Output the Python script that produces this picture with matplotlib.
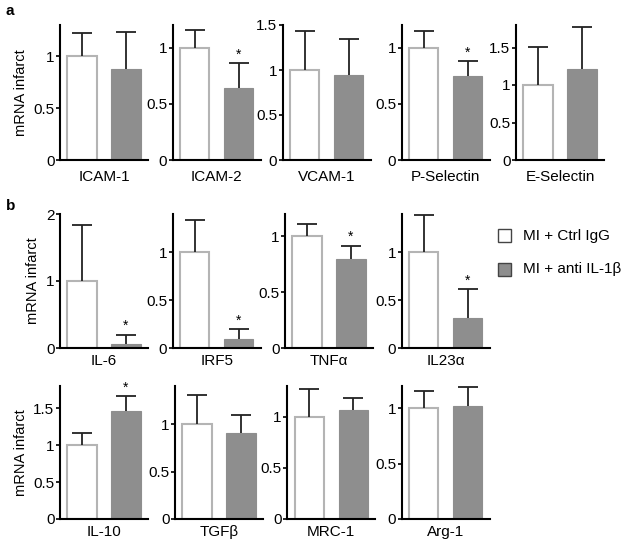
import numpy as np
import matplotlib.pyplot as plt
from matplotlib.ticker import MultipleLocator, FormatStrFormatter
from matplotlib.patches import Rectangle

plt.rcParams['font.family'] = ['Liberation Sans', 'DejaVu Sans']
plt.rcParams['font.size'] = 11

# Data (relative mRNA expression in infarct, mean and upper error)
genes_a = ['ICAM-1', 'ICAM-2', 'VCAM-1', 'P-Selectin', 'E-Selectin']
ctrl_a = [1.0, 1.0, 1.0, 1.0, 1.0]
ctrl_err_a = [0.22, 0.16, 0.43, 0.15, 0.51]
anti_a = [0.88, 0.64, 0.94, 0.745, 1.22]
anti_err_a = [0.35, 0.22, 0.40, 0.135, 0.55]
sig_a = [False, True, False, True, False]

genes_b1 = ['IL-6', 'IRF5', 'TNFα', 'IL23α']
ctrl_b1 = [1.0, 1.0, 1.0, 1.0]
ctrl_err_b1 = [0.84, 0.333, 0.107, 0.386]
anti_b1 = [0.065, 0.09, 0.80, 0.316]
anti_err_b1 = [0.135, 0.105, 0.116, 0.30]
sig_b1 = [True, True, True, True]

genes_b2 = ['IL-10', 'TGFβ', 'MRC-1', 'Arg-1']
ctrl_b2 = [1.0, 1.0, 1.0, 1.0]
ctrl_err_b2 = [0.158, 0.31, 0.266, 0.153]
anti_b2 = [1.463, 0.908, 1.07, 1.02]
anti_err_b2 = [0.20, 0.187, 0.115, 0.175]
sig_b2 = [True, False, False, False]

# axis limits / tick steps per panel
ymax_a = [1.3, 1.2, 1.5, 1.2, 1.8]
ymax_b1 = [2.0, 1.4, 1.2, 1.4]
ymax_b2 = [1.8, 1.4, 1.3, 1.2]
step_b1 = [1.0, 0.5, 0.5, 0.5]

W, H = 624, 547
fig = plt.figure(figsize=(W / 100, H / 100), dpi=100)

WHITE_EDGE = '#b4b4b4'
GRAY = '#8e8e8e'


def add_panel(left, top, bottom, gene, c, ce, a, ae, sig, ymax, step, ylabel, lpad):
    ax = fig.add_axes([left / W, 1 - bottom / H, 88 / W, (bottom - top) / H])
    ax.bar(0, c, width=0.667, color='white', edgecolor=WHITE_EDGE, linewidth=1.5)
    ax.bar(1, a, width=0.667, color=GRAY, edgecolor=GRAY, linewidth=0.8)
    # upper-only error bars
    means = np.array([c, a])
    errs = np.array([ce, ae])
    ax.vlines([0, 1], means, means + errs, color='#222222', linewidth=1.3)
    ax.hlines(means + errs, np.array([0, 1]) - 0.23, np.array([0, 1]) + 0.23,
              color='#222222', linewidth=1.3)
    if sig:
        ax.text(1, a + ae + ymax * 0.012, '*', ha='center', va='bottom', fontsize=10)
    ax.set_xlim(-0.5, 1.5)
    ax.set_ylim(0, ymax)
    ax.yaxis.set_major_locator(MultipleLocator(step))
    ax.yaxis.set_major_formatter(FormatStrFormatter('%g'))
    ax.set_xticks([])
    ax.set_xlabel(gene, fontsize=11, labelpad=lpad)
    for s in ['top', 'right']:
        ax.spines[s].set_visible(False)
    for s in ['left', 'bottom']:
        ax.spines[s].set_linewidth(1.5)
    ax.tick_params(axis='y', length=3, width=1.2, pad=1, labelsize=11)
    if ylabel:
        ax.set_ylabel('mRNA infarct', fontsize=10.5, labelpad=4)
    return ax


lefts_a = [60, 172.7, 282.7, 401.7, 516]
for i in range(5):
    add_panel(lefts_a[i], 25, 160, genes_a[i], ctrl_a[i], ctrl_err_a[i],
              anti_a[i], anti_err_a[i], sig_a[i], ymax_a[i], 0.5, i == 0, 7)

lefts_b1 = [60, 172.7, 285, 401.7]
for i in range(4):
    add_panel(lefts_b1[i], 214, 348, genes_b1[i], ctrl_b1[i], ctrl_err_b1[i],
              anti_b1[i], anti_err_b1[i], sig_b1[i], ymax_b1[i], step_b1[i], i == 0, 4.5)

lefts_b2 = [60, 175, 287.3, 401.7]
for i in range(4):
    add_panel(lefts_b2[i], 386, 519, genes_b2[i], ctrl_b2[i], ctrl_err_b2[i],
              anti_b2[i], anti_err_b2[i], sig_b2[i], ymax_b2[i], 0.5, i == 0, 4.5)

# panel letters
fig.text(6 / W, 1 - 11 / H, 'a', fontsize=11, fontweight='bold', va='center')
fig.text(6 / W, 1 - 206 / H, 'b', fontsize=11, fontweight='bold', va='center')

# legend
legend_labels = ['MI + Ctrl IgG', 'MI + anti IL-1β']
legend_colors = ['white', GRAY]
for k, (lab, col) in enumerate(zip(legend_labels, legend_colors)):
    yc = 236 + k * 33.5
    fig.patches.append(Rectangle((497.5 / W, 1 - (yc + 6.5) / H), 13 / W, 13 / H,
                                 transform=fig.transFigure, facecolor=col,
                                 edgecolor='#444444', linewidth=1.0))
    fig.text(523 / W, 1 - yc / H, lab, fontsize=11, va='center')

fig.savefig('out.png', dpi=100)
